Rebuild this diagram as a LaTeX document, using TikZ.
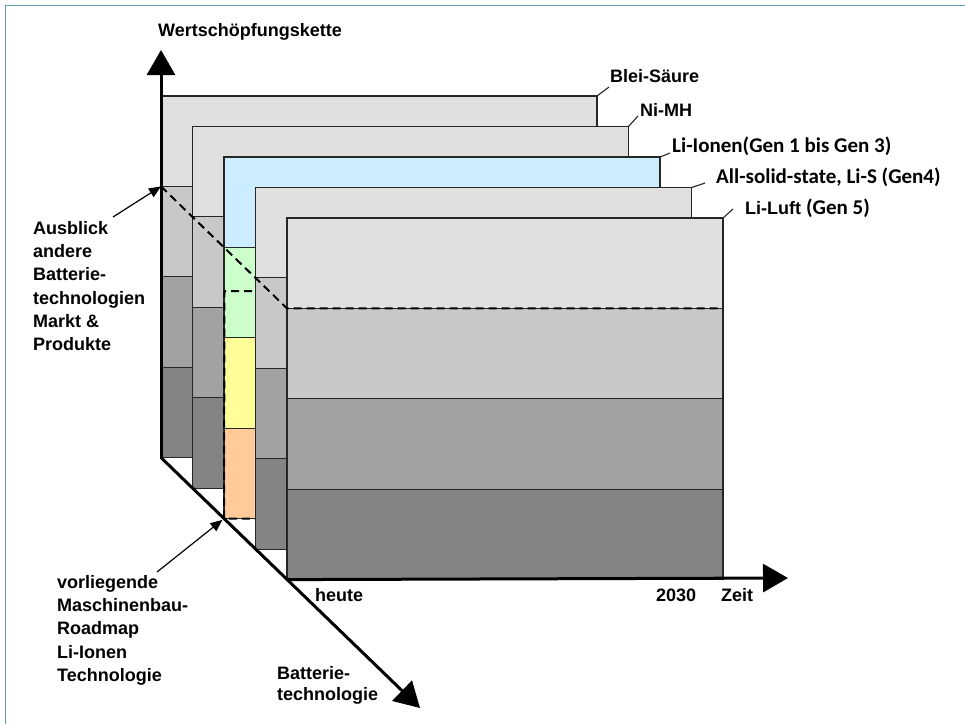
\documentclass[tikz,border=0pt]{standalone}
\usepackage{fontspec}
\setmainfont{Liberation Sans}
\newfontfamily\calfont{Carlito}
\usetikzlibrary{arrows.meta}

\definecolor{frameblue}{RGB}{95,158,180}
\definecolor{gA}{RGB}{224,224,224}
\definecolor{gB}{RGB}{200,200,200}
\definecolor{gC}{RGB}{162,162,162}
\definecolor{gD}{RGB}{132,132,132}
\definecolor{cA}{RGB}{204,236,255}
\definecolor{cB}{RGB}{204,255,204}
\definecolor{cC}{RGB}{255,255,153}
\definecolor{cD}{RGB}{255,204,153}

\tikzset{
  layerline/.style={draw=black!85, line width=1.1pt},
  axis/.style={line width=3pt, -{Triangle[length=25pt,width=28pt]}},
  pointer/.style={line width=1.2pt, -{Triangle[length=12pt,width=10pt]}},
  leader/.style={line width=1.1pt, draw=black!85},
  roadmap/.style={line width=2pt, dash pattern=on 8pt off 5pt},
  lbl/.style={inner sep=0pt, font=\fontsize{18}{23.3}\selectfont\bfseries},
  cal/.style={inner sep=0pt, font=\fontsize{21}{25}\selectfont\calfont\bfseries},
}

\begin{document}
\begin{tikzpicture}[x=1pt,y=-1pt]
\useasboundingbox (0,0) rectangle (965,724);
\fill[white] (0,0) rectangle (965,724);
\draw[frameblue, line width=1.5pt] (5.5,724) -- (5.5,5.5) -- (965,5.5);

% five technology layers, back to front, each split into four value-chain bands
\foreach \i/\ca/\cb/\cc/\cd in {0/gA/gB/gC/gD,1/gA/gB/gC/gD,2/cA/cB/cC/cD,3/gA/gB/gC/gD,4/gA/gB/gC/gD}{
  \pgfmathsetmacro\lx{161+31.5*\i}
  \pgfmathsetmacro\ty{96+30.5*\i}
  \pgfmathsetmacro\rx{\lx+436}
  \pgfmathsetmacro\ya{\ty+90.4}
  \pgfmathsetmacro\yb{\ty+180.8}
  \pgfmathsetmacro\yc{\ty+271.2}
  \pgfmathsetmacro\yd{\ty+361.6}
  \fill[\ca] (\lx,\ty) rectangle (\rx,\ya);
  \fill[\cb] (\lx,\ya) rectangle (\rx,\yb);
  \fill[\cc] (\lx,\yb) rectangle (\rx,\yc);
  \fill[\cd] (\lx,\yc) rectangle (\rx,\yd);
  \draw[layerline] (\lx,\ty) rectangle (\rx,\yd);
  \draw[layerline] (\lx,\ya) -- (\rx,\ya) (\lx,\yb) -- (\rx,\yb) (\lx,\yc) -- (\rx,\yc);
  \coordinate (L\i-tr) at (\rx,\ty);
  \coordinate (L\i-bl) at (\lx,\yd);
  \coordinate (L\i-b1) at (\lx,\ya);
  \coordinate (L\i-r1) at (\rx,\ya);
}

% dashed boundaries
\draw[roadmap] (L0-b1) -- (L4-b1) -- (L4-r1);
\coordinate (rmA) at (252,291);
\coordinate (rmB) at (224.5,291);
\draw[roadmap] (rmA) -- (rmB) -- (L2-bl) -- (L3-bl |- L2-bl);

% axes
\coordinate (ytip) at (161,50);
\coordinate (xtip) at (788,578);
\coordinate (dtip) at (420,708);
\draw[axis] (L0-bl) -- (ytip);
\draw[axis] (L4-bl) -- (xtip);
\draw[axis] (L0-bl) -- (dtip);

% axis labels
\node[lbl, anchor=base west] (wsk) at (158,36) {Wertschöpfungskette};
\node[lbl, anchor=base west] (heute) at (315,601) {heute};
\node[lbl, anchor=base west] (y2030) at (656,601) {2030};
\node[lbl, anchor=base west] (zeit) at (721,601) {Zeit};
\node[lbl, anchor=north west, align=left, font=\fontsize{18}{21}\selectfont\bfseries] (bt) at (277,666) {Batterie-\\technologie};

% layer labels
\node[lbl, anchor=base west] (blei) at (610,82) {Blei-Säure};
\node[lbl, anchor=base west] (nimh) at (640,116) {Ni-MH};
\node[cal, anchor=base west] (liion) at (672,152) {Li-Ionen(Gen 1 bis Gen 3)};
\node[cal, anchor=base west] (ass) at (716,183) {All-solid-state, Li-S (Gen4)};
\node[lbl, anchor=base west] (luft) at (745,214) {Li-Luft {\fontsize{21}{25}\selectfont\calfont\bfseries(Gen 5)}};

\draw[leader] (L0-tr) -- ([xshift=-1pt,yshift=-5pt]blei.base west);
\draw[leader] (L1-tr) -- ([xshift=-2pt]nimh.base west);
\draw[leader] (L2-tr) -- ([xshift=-2pt,yshift=-1pt]liion.base west);
\draw[leader] (L3-tr) -- ([xshift=-11pt]ass.base west);
\draw[leader] (L4-tr) -- ([xshift=-12pt,yshift=5pt]luft.base west);

% side notes
\node[lbl, anchor=north west, align=left] (ausblick) at (33,221)
  {Ausblick\\andere\\Batterie-\\technologien\\Markt \&\\Produkte};
\node[lbl, anchor=north west, align=left] (vorl) at (57,575)
  {vorliegende\\Maschinenbau-\\Roadmap\\Li-Ionen\\Technologie};
\coordinate (ausStart) at (113,217);
\coordinate (vorStart) at (157,572);
\draw[pointer] (ausStart) -- (L0-b1);
\draw[pointer, shorten >=2pt] (vorStart) -- (L2-bl);
\end{tikzpicture}
\end{document}
